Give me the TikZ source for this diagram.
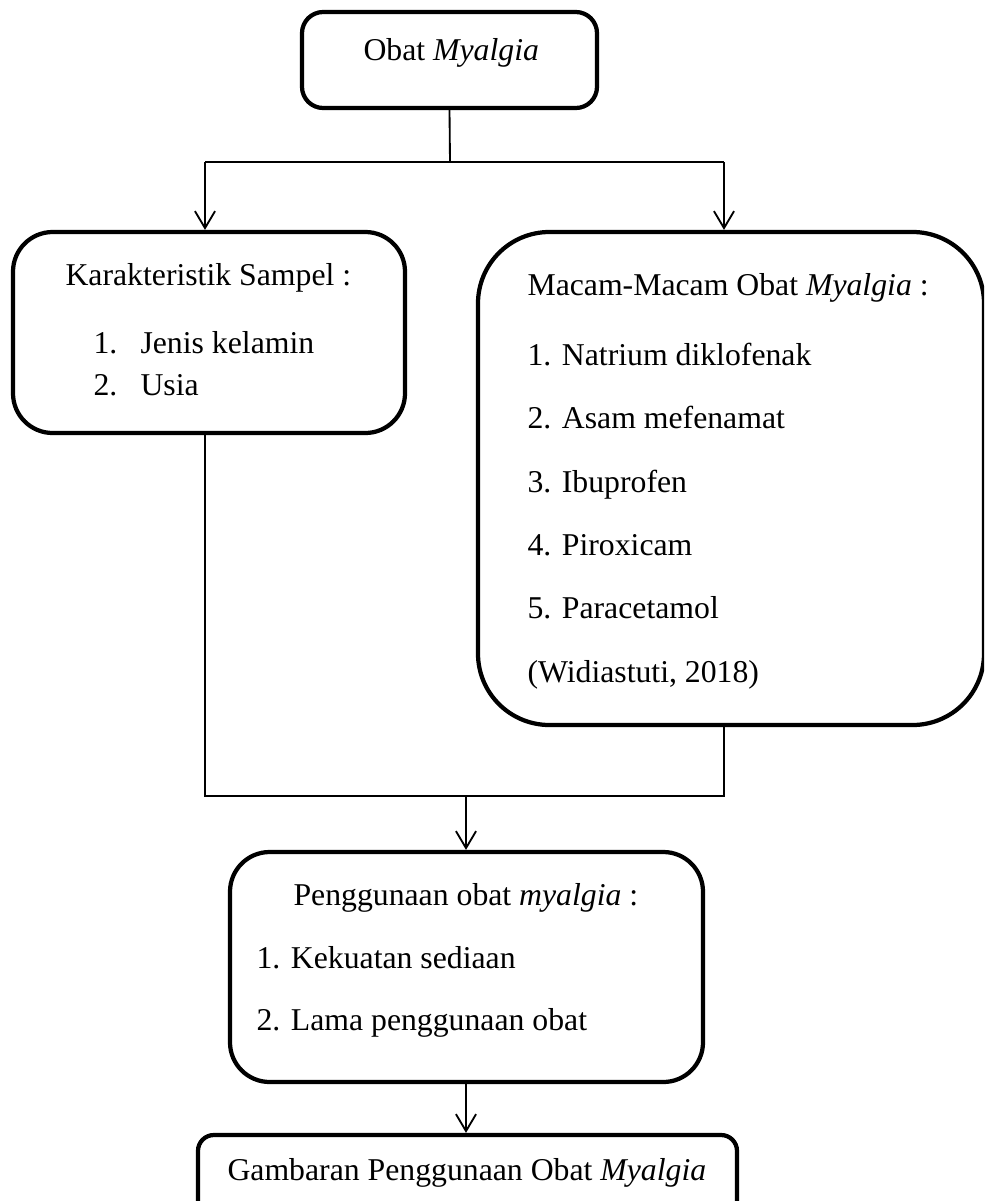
\documentclass[tikz,border=0pt]{standalone}
\usepackage{fontspec}
\setmainfont{Liberation Serif}
\usetikzlibrary{arrows.meta}

\begin{document}
\begin{tikzpicture}[x=0.378pt, y=-0.378pt,
    font=\fontsize{12pt}{14pt}\selectfont,
    kotak/.style={draw, line width=1.6pt, inner sep=0pt},
    teks/.style={anchor=base west, inner sep=0pt},
    garis/.style={line width=0.7pt},
    panah/.style={line width=0.7pt, -{Straight Barb[length=6.4pt, width=7.6pt]}}]
  % Batas gambar
  \clip (0,0) rectangle (984,1201);
  \fill[white] (0,0) rectangle (984,1201);
  % Kotak-kotak
  \node[kotak, rounded corners=8pt, minimum width=295*0.378pt, minimum height=96*0.378pt]
    (obat) at (449.5,60) {};
  \node[kotak, rounded corners=15pt, minimum width=392*0.378pt, minimum height=201*0.378pt]
    (karak) at (209,332.5) {};
  \node[kotak, rounded corners=27pt, minimum width=506*0.378pt, minimum height=493*0.378pt]
    (macam) at (731,478.5) {};
  \node[kotak, rounded corners=15pt, minimum width=473*0.378pt, minimum height=230*0.378pt]
    (guna) at (466.5,967) {};
  \node[kotak, rounded corners=6pt, minimum width=539*0.378pt, minimum height=110*0.378pt]
    (gambar) at (467.5,1190) {};
  % Teks di dalam kotak
  \node[teks] (tobat) at (363,60) {Obat \textit{Myalgia}};
  \node[teks] (tkarak) at (65,285) {Karakteristik Sampel :};
  \node[teks] (k1) at (93,353) {1.};
  \node[teks] (k1b) at (140,353) {Jenis kelamin};
  \node[teks] (k2) at (93,395) {2.};
  \node[teks] (k2b) at (140,395) {Usia};
  \node[teks] (tmacam) at (527,295) {Macam-Macam Obat \textit{Myalgia} :};
  \node[teks] (m1) at (527,365) {1. Natrium diklofenak};
  \node[teks] (m2) at (527,428) {2. Asam mefenamat};
  \node[teks] (m3) at (527,492) {3. Ibuprofen};
  \node[teks] (m4) at (527,555) {4. Piroxicam};
  \node[teks] (m5) at (527,618) {5. Paracetamol};
  \node[teks] (sumber) at (527,682) {(Widiastuti, 2018)};
  \node[teks] (tguna) at (293,905) {Penggunaan obat \textit{myalgia} :};
  \node[teks] (g1) at (256,968) {1. Kekuatan sediaan};
  \node[teks] (g2) at (256,1030) {2. Lama penggunaan obat};
  \node[teks] (tgambar) at (227,1180) {Gambaran Penggunaan Obat \textit{Myalgia}};
  % Titik percabangan
  \coordinate (atas) at (450,162);
  \coordinate (kiri) at (205,162);
  \coordinate (kanan) at (724,162);
  \coordinate (bkiri) at (205,796);
  \coordinate (bkanan) at (724,796);
  \coordinate (btengah) at (466,796);
  % Garis penghubung
  \draw[garis] (obat.south) -- (atas);
  \draw[garis] (kiri) -- (kanan);
  \draw[panah] (kiri) -- (kiri |- karak.north);
  \draw[panah] (kanan) -- (kanan |- macam.north);
  \draw[garis] (bkiri |- karak.south) -- (bkiri) -- (bkanan) -- (bkanan |- macam.south);
  \draw[panah] (btengah) -- (btengah |- guna.north);
  \draw[panah] (guna.south -| btengah) -- (gambar.north -| btengah);
\end{tikzpicture}
\end{document}
